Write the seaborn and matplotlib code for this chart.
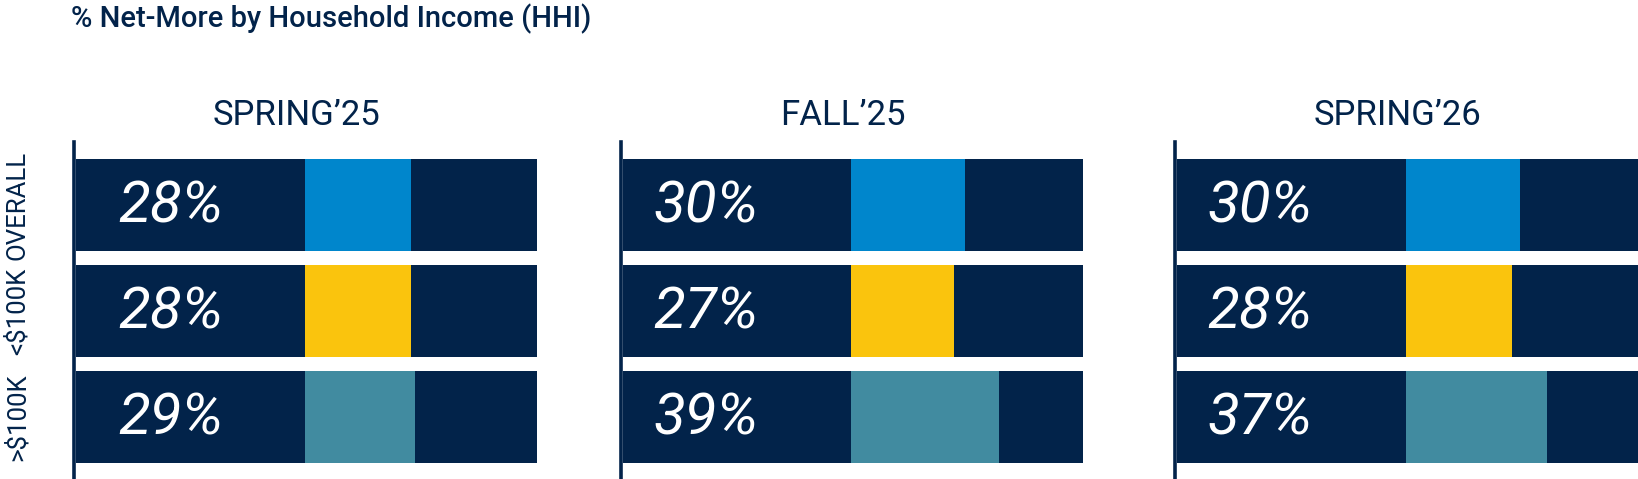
import matplotlib
matplotlib.use("Agg")
import matplotlib.pyplot as plt
import seaborn as sns

sns.set_style("white")

# data
periods = ["SPRING\u201925", "FALL\u201925", "SPRING\u201926"]
groups = ["OVERALL", "<$100K", ">$100K"]
spring25 = [28, 28, 29]
fall25 = [30, 27, 39]
spring26 = [30, 28, 37]
series = [spring25, fall25, spring26]

navy = "#02234A"
seg_colors = ["#0086CC", "#FAC40D", "#418BA0"]

bar_total = 121   # full navy track
seg_start = 60    # where the coloured segment begins
label_x = [11, 8, 8]

narrow = ["Roboto", "DejaVu Sans"]

W, H = 1638, 479
fig = plt.figure(figsize=(W / 100, H / 100), dpi=100)

fig.text(71 / W, 1 - 27 / H, "% Net-More by Household Income (HHI)",
         fontsize=21, color=navy, family=["Roboto", "DejaVu Sans"],
         fontweight="medium", va="baseline", ha="left")

# axes boxes in pixels: left, right
boxes = [(74, 537), (621, 1083), (1175, 1638)]
top_px, bot_px = 142, 478

for i, (period, vals) in enumerate(zip(periods, series)):
    l, r = boxes[i]
    ax = fig.add_axes([l / W, 1 - bot_px / H, (r - l) / W, (bot_px - top_px) / H])

    kw = dict(width=0.868, saturation=1, linewidth=0, ax=ax)
    sns.barplot(x=[bar_total] * 3, y=groups, color=navy, **kw)
    sns.barplot(x=[seg_start + v for v in vals], y=groups, hue=groups,
                palette=seg_colors, legend=False, **kw)
    sns.barplot(x=[seg_start] * 3, y=groups, color=navy, **kw)

    for j, v in enumerate(vals):
        ax.text(label_x[i], j + 0.02, f"{v}%", color="white", fontsize=42,
                style="italic", family=narrow, va="center", ha="left")

    ax.set_xlim(-0.5, bar_total)
    ax.set_ylim(2.575, -0.594)
    ax.set_xlabel("")
    ax.set_ylabel("")
    ax.set_xticks([])
    ax.set_title(period, x=0.48, pad=12, fontsize=25, color=navy, family=narrow)

    for s in ["top", "right", "bottom"]:
        ax.spines[s].set_visible(False)
    ax.spines["left"].set_color(navy)
    ax.spines["left"].set_linewidth(2.6)

    if i == 0:
        ax.tick_params(axis="y", length=0, pad=32)
        for t in ax.get_yticklabels():
            t.set_rotation(90)
            t.set_va("center")
            t.set_fontsize(18.5)
            t.set_color(navy)
            t.set_family(narrow)
    else:
        ax.set_yticks([])

fig.savefig("out.png", dpi=100)
